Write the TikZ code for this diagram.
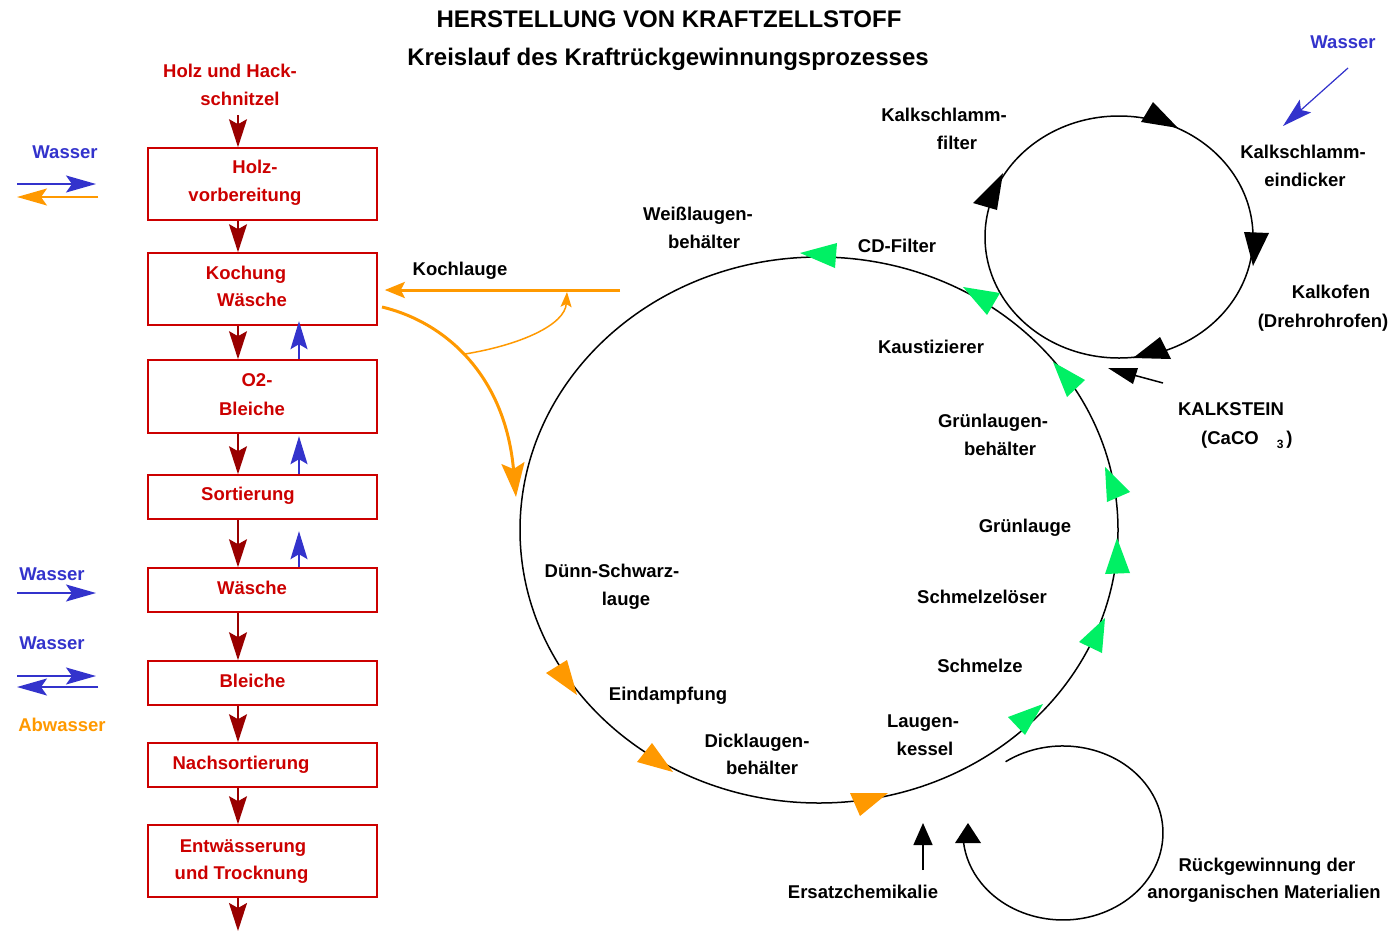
\documentclass[tikz,border=0pt]{standalone}
\usepackage{fontspec}
\setmainfont{Liberation Sans}
\usetikzlibrary{arrows.meta,calc}
\definecolor{myred}{RGB}{204,0,0}
\definecolor{mydarkred}{RGB}{153,0,0}
\definecolor{myblue}{RGB}{51,51,204}
\definecolor{myorange}{RGB}{255,153,0}
\definecolor{mygreen}{RGB}{0,240,100}
\begin{document}
\begin{tikzpicture}[x=1pt,y=-1pt,
  lbl/.style={font=\bfseries\fontsize{18.5}{22}\selectfont, anchor=base, inner sep=0pt},
  rlbl/.style={lbl, text=myred},
  blbl/.style={lbl, text=myblue},
  olbl/.style={lbl, text=myorange},
  ttl/.style={font=\bfseries\fontsize{24}{28}\selectfont, anchor=base, inner sep=0pt},
  box/.style={draw=myred, line width=1.6pt, minimum width=229pt, inner sep=0pt},
  darr/.style={draw=mydarkred, line width=1.8pt, -{Stealth[length=28pt,width=18pt,inset=5pt]}},
  barr/.style={draw=myblue, line width=1.5pt, -{Stealth[length=28pt,width=17pt,inset=5pt]}},
  sarr/.style={line width=1.5pt, -{Stealth[length=30pt,width=17pt,inset=6pt]}},
  oarr/.style={draw=myorange, line width=3pt, -{Stealth[length=20pt,width=16pt,inset=4pt]}},
  oarrb/.style={draw=myorange, line width=3pt, -{Stealth[length=34pt,width=23pt,inset=6pt]}},
  oarrc/.style={draw=myorange, line width=1.5pt, -{Stealth[length=15pt,width=11pt,inset=3pt]}},
  cyc/.style={draw=black, line width=1.5pt},
  karr/.style={draw=black, line width=1.5pt, -{Triangle[length=22pt,width=19pt]}},
  gtip/.style={fill=mygreen},
  otip/.style={fill=myorange},
  ktip/.style={fill=black}
]
\useasboundingbox (0,0) rectangle (1392,930);
\fill[white] (0,0) rectangle (1392,930);

% titles
\node[ttl] (t1) at (669,27) {HERSTELLUNG VON KRAFTZELLSTOFF};
\node[ttl] (t2) at (668,65) {Kreislauf des Kraftrückgewinnungsprozesses};

% left column boxes
\node[box, minimum height=72pt] (b1) at (262.5,184) {};
\node[box, minimum height=72pt] (b2) at (262.5,289) {};
\node[box, minimum height=73pt] (b3) at (262.5,396.5) {};
\node[box, minimum height=44pt] (b4) at (262.5,497) {};
\node[box, minimum height=44pt] (b5) at (262.5,590) {};
\node[box, minimum height=44pt] (b6) at (262.5,683) {};
\node[box, minimum height=44pt] (b7) at (262.5,765) {};
\node[box, minimum height=72pt] (b8) at (262.5,861) {};

% left column texts
\node[rlbl] (hh1) at (230,77) {Holz und Hack-};
\node[rlbl] (hh2) at (240,105) {schnitzel};
\node[rlbl] (l1a) at (255,173) {Holz-};
\node[rlbl] (l1b) at (245,201) {vorbereitung};
\node[rlbl] (l2a) at (246,279) {Kochung};
\node[rlbl] (l2b) at (252,306) {Wäsche};
\node[rlbl] (l3a) at (257,386) {O2-};
\node[rlbl] (l3b) at (252,415) {Bleiche};
\node[rlbl] (l4) at (248,500) {Sortierung};
\node[rlbl] (l5) at (252,594) {Wäsche};
\node[rlbl] (l6) at (252.5,687) {Bleiche};
\node[rlbl] (l7) at (241,769) {Nachsortierung};
\node[rlbl] (l8a) at (243,852) {Entwässerung};
\node[rlbl] (l8b) at (241.5,879) {und Trocknung};

\node[blbl] (w1) at (65,158) {Wasser};
\node[blbl] (w2) at (52,580) {Wasser};
\node[blbl] (w3) at (52,649) {Wasser};
\node[olbl] (abw) at (62,731) {Abwasser};
\node[blbl] (w4) at (1343,48) {Wasser};

% dark red flow arrows
\coordinate (ax) at (238,0);
\coordinate (wood) at (238,115);
\coordinate (out) at (238,931);
\draw[darr] (wood) -- (b1.north -| ax);
\draw[darr] (b1.south -| ax) -- (b2.north -| ax);
\draw[darr] (b2.south -| ax) -- (b3.north -| ax);
\draw[darr] (b3.south -| ax) -- (b4.north -| ax);
\draw[darr] (b4.south -| ax) -- (b5.north -| ax);
\draw[darr] (b5.south -| ax) -- (b6.north -| ax);
\draw[darr] (b6.south -| ax) -- (b7.north -| ax);
\draw[darr] (b7.south -| ax) -- (b8.north -| ax);
\draw[darr] (b8.south -| ax) -- (out);

% blue up arrows
\coordinate (bx) at (299,0);
\draw[barr] (b3.north -| bx) -- ++(0,-38);
\draw[barr] (b4.north -| bx) -- ++(0,-38);
\draw[barr] (b5.north -| bx) -- ++(0,-36);

% side arrows
\coordinate (s1a) at (17,184); \coordinate (s1b) at (96,184);
\coordinate (s2a) at (98,197); \coordinate (s2b) at (17,197);
\coordinate (s3a) at (17,593); \coordinate (s3b) at (96,593);
\coordinate (s4a) at (17,676); \coordinate (s4b) at (96,676);
\coordinate (s5a) at (98,687); \coordinate (s5b) at (17,687);
\draw[sarr, draw=myblue, fill=myblue] (s1a) -- (s1b);
\draw[sarr, draw=myorange, fill=myorange] (s2a) -- (s2b);
\draw[sarr, draw=myblue, fill=myblue] (s3a) -- (s3b);
\draw[sarr, draw=myblue, fill=myblue] (s4a) -- (s4b);
\draw[sarr, draw=myblue, fill=myblue] (s5a) -- (s5b);

% Kochlauge
\coordinate (kl) at (620,290);
\draw[oarr, shorten >=7pt] (kl) -- (b2.east |- kl);
\coordinate (kc0) at (382,307);
\coordinate (kc1) at (516,497);
\draw[oarrb] (kc0) .. controls (445,322) and (505,375) .. (kc1);
\coordinate (kc2) at (465,354);
\coordinate (kc3) at (567,292);
\draw[oarrc] (kc2) .. controls (520,345) and (565,325) .. (kc3);
\node[lbl] (kochl) at (460,275) {Kochlauge};

% big cycle
\draw[cyc] (819,530) ellipse [x radius=299, y radius=273];
% small cycle
\draw[cyc] (1119,237) ellipse [x radius=134, y radius=121];
% loop
\draw[cyc] (1005.6,761.7) arc[start angle=-125, end angle=174, x radius=100, y radius=87];
\fill[ktip] (968,823) -- (955,843) -- (981,843) -- cycle;

% green tips
\fill[gtip] (800,253) -- (837,243) -- (835,268) -- cycle;
\fill[gtip] (963,287) -- (1000,293) -- (987,315) -- cycle;
\fill[gtip] (1053,362) -- (1085,380) -- (1067,397) -- cycle;
\fill[gtip] (1105,467) -- (1130,492) -- (1107,502) -- cycle;
\fill[gtip] (1117,538) -- (1130,573) -- (1105,574) -- cycle;
\fill[gtip] (1105,618) -- (1102,653) -- (1079,642) -- cycle;
\fill[gtip] (1043,704) -- (1025,735) -- (1008,717) -- cycle;
% orange tips
\fill[otip] (567,660) -- (577,695) -- (546,673) -- cycle;
\fill[otip] (652,743) -- (673,772) -- (637,762) -- cycle;
\fill[otip] (850,793) -- (888,793) -- (860,816) -- cycle;
% black tips small cycle
\fill[ktip] (1153,102) -- (1178,128) -- (1141,122) -- cycle;
\fill[ktip] (1003,173) -- (997,210) -- (973,203) -- cycle;
\fill[ktip] (1244,232) -- (1269,233) -- (1253,266) -- cycle;
\fill[ktip] (1160,337) -- (1171,359) -- (1133,358) -- cycle;

% KALKSTEIN arrow
\coordinate (ks0) at (1163,383);
\coordinate (ks1) at (1126,373);
\draw[line width=1.5pt] (ks0) -- (ks1);
\fill[ktip] (1108,368) -- (1138,368) -- (1133,384) -- cycle;

% Ersatzchemikalie arrow
\coordinate (ez0) at (923,870);
\coordinate (ez1) at (923,823);
\draw[karr] (ez0) -- (ez1);

% top right Wasser arrow
\coordinate (tw0) at (1348,68);
\coordinate (tw1) at (1283,126);
\draw[sarr, draw=myblue, fill=myblue, line width=1.2pt] (tw0) -- (tw1);

% labels
\node[lbl] (wl1) at (698,220) {Weißlaugen-};
\node[lbl] (wl2) at (704,248) {behälter};
\node[lbl] (cdf) at (897,252) {CD-Filter};
\node[lbl] (kf1) at (944,121) {Kalkschlamm-};
\node[lbl] (kf2) at (957,149) {filter};
\node[lbl] (ke1) at (1303,158) {Kalkschlamm-};
\node[lbl] (ke2) at (1305,186) {eindicker};
\node[lbl] (ko1) at (1331,298) {Kalkofen};
\node[lbl] (ko2) at (1323,327) {(Drehrohrofen)};
\node[lbl] (kau) at (931,353) {Kaustizierer};
\node[lbl] (kst) at (1231,415) {KALKSTEIN};
\node[lbl, anchor=base west] (caco) at (1201,444) {(CaCO\hspace{18pt}\raisebox{-4pt}{\fontsize{12}{12}\selectfont 3}\hspace{3pt})};
\node[lbl] (gb1) at (993,427) {Grünlaugen-};
\node[lbl] (gb2) at (1000,455) {behälter};
\node[lbl] (gl) at (1025,532) {Grünlauge};
\node[lbl] (ds1) at (612,577) {Dünn-Schwarz-};
\node[lbl] (ds2) at (626,605) {lauge};
\node[lbl] (sl) at (982,603) {Schmelzelöser};
\node[lbl] (sm) at (980,672) {Schmelze};
\node[lbl] (ed) at (668,700) {Eindampfung};
\node[lbl] (lk1) at (923,727) {Laugen-};
\node[lbl] (lk2) at (925,755) {kessel};
\node[lbl] (dl1) at (757,747) {Dicklaugen-};
\node[lbl] (dl2) at (762,774) {behälter};
\node[lbl] (ez) at (863,898) {Ersatzchemikalie};
\node[lbl] (rg1) at (1267,871) {Rückgewinnung der};
\node[lbl] (rg2) at (1264,898) {anorganischen Materialien};
\end{tikzpicture}
\end{document}
